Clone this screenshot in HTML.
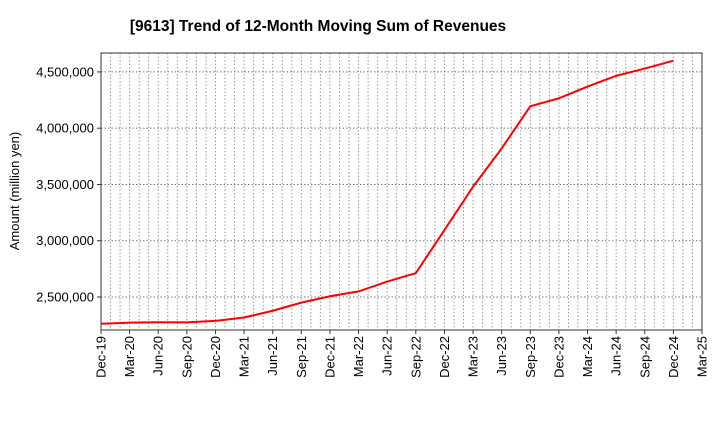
<!DOCTYPE html>
<html><head><meta charset="utf-8"><style>body{margin:0;background:#fff}svg{display:block;font-family:"Liberation Sans",sans-serif}</style></head>
<body>
<svg id="c" width="720" height="440">
<text x="318" y="31" text-anchor="middle" font-size="15.5" font-weight="bold">[9613]  Trend of 12-Month Moving Sum of Revenues</text>
<text transform="translate(19,191) rotate(-90)" text-anchor="middle" font-size="13">Amount (million yen)</text>
<g id="grid"></g><g id="axes"></g><g id="series"></g>
</svg>
<script>
const categories=["Dec-19","Mar-20","Jun-20","Sep-20","Dec-20","Mar-21","Jun-21","Sep-21","Dec-21","Mar-22","Jun-22","Sep-22","Dec-22","Mar-23","Jun-23","Sep-23","Dec-23","Mar-24","Jun-24","Sep-24","Dec-24","Mar-25"];
const revenues=[2262000,2272000,2276000,2275000,2288000,2318000,2378000,2450000,2507000,2550000,2637000,2712000,3095000,3480000,3820000,4195000,4265000,4370000,4465000,4530000,4600000];
const yTicks=[2500000,3000000,3500000,4000000,4500000];
const yTickLabels=["2,500,000","3,000,000","3,500,000","4,000,000","4,500,000"];
const L=101,R=702,T=53,B=330,YMIN=2207000,YMAX=4668000;
const ns="http://www.w3.org/2000/svg";
const xs=i=>L+(R-L)*i/(categories.length-1);
const ys=v=>B-(v-YMIN)/(YMAX-YMIN)*(B-T);
function mk(t,a,p){const e=document.createElementNS(ns,t);for(const k in a)e.setAttribute(k,a[k]);p.appendChild(e);return e;}
const grid=document.getElementById('grid'),axes=document.getElementById('axes'),ser=document.getElementById('series');
for(let m=1;m<(categories.length-1)*3;m++){const x=L+(R-L)*m/((categories.length-1)*3);
const g=mk('line',{x1:x,x2:x,y1:T,y2:B,stroke:'#999','stroke-dasharray':'1.5,2','stroke-width':1},grid);
}
yTicks.forEach((v,i)=>{const y=ys(v);
const g=mk('line',{x1:L,x2:R,y1:y,y2:y,stroke:'#777','stroke-dasharray':'1.5,2','stroke-width':1},grid);

const t=mk('text',{x:L-7,y:y+4.5,'text-anchor':'end','font-size':13},axes);t.textContent=yTickLabels[i];

mk('line',{x1:L-4,x2:L,y1:y,y2:y,stroke:'#333'},axes);});
categories.forEach((c,i)=>{const x=xs(i);
const t=mk('text',{transform:`translate(${x+4.5},${B+6}) rotate(-90)`,'text-anchor':'end','font-size':13},axes);t.textContent=c;

mk('line',{x1:x,x2:x,y1:B,y2:B+4,stroke:'#333'},axes);});
const fr=mk('rect',{x:L,y:T,width:R-L,height:B-T,fill:'none',stroke:'#333','stroke-width':1},axes);

const p=mk('polyline',{points:revenues.map((v,i)=>xs(i)+','+ys(v)).join(' '),fill:'none',stroke:'#f00','stroke-width':2},ser);

</script>
</body></html>
